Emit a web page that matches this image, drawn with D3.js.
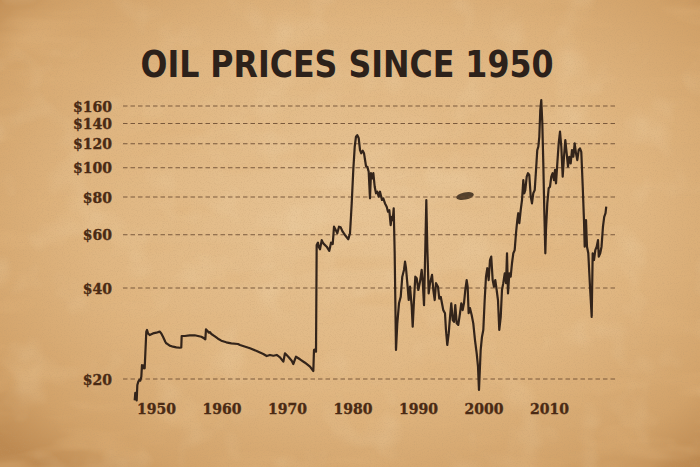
<!DOCTYPE html>
<html><head><meta charset="utf-8">
<script src="https://cdn.jsdelivr.net/npm/d3@7"></script>
<style>html,body{margin:0;padding:0;background:#d9b080;}svg{display:block}</style>
</head><body>
<script>
const title = "OIL PRICES SINCE 1950";
const yTicks = [20, 40, 60, 80, 100, 120, 140, 160];
const xTicks = [1950, 1960, 1970, 1980, 1990, 2000, 2010];
const years = [
1946.75,1946.84,1947.05,1947.15,1947.30,1947.45,1947.60,1947.76,1947.86,1948.02,1948.17,1948.27,1948.52,1948.63,1948.78,1949.04,1949.54,
1950.05,1950.56,1950.81,1951.07,1951.42,1951.57,1951.83,1952.09,1952.60,1953.10,1953.62,1953.86,1953.92,1954.38,1955.15,1955.91,1956.41,
1956.92,1957.33,1957.53,1957.63,1957.83,1958.05,1958.24,1958.44,1958.70,1959.05,1959.47,1959.97,1960.73,1961.50,1962.52,1962.82,1964.35,
1965.37,1966.38,1966.90,1967.40,1967.91,1968.43,1968.93,1969.44,1969.69,1970.20,1970.72,1970.96,1971.37,1971.98,1972.75,1973.51,1974.02,
1974.12,1974.27,1974.43,1974.53,1974.73,1974.84,1975.04,1975.30,1975.54,1976.06,1976.46,1976.72,1976.98,1977.18,1977.44,1977.68,1977.94,
1978.20,1978.50,1978.85,1979.36,1979.62,1979.88,1980.12,1980.34,1980.53,1980.73,1980.95,1981.15,1981.34,1981.56,1981.76,1982.06,1982.26,
1982.47,1982.67,1982.82,1983.02,1983.18,1983.39,1983.59,1983.79,1984.00,1984.20,1984.50,1984.70,1984.96,1985.22,1985.42,1985.62,1985.73,
1985.83,1985.98,1986.14,1986.29,1986.44,1986.64,1986.84,1987.10,1987.36,1987.60,1987.86,1988.02,1988.17,1988.37,1988.58,1988.78,1989.04,
1989.19,1989.39,1989.59,1989.80,1990.05,1990.31,1990.56,1990.72,1990.92,1991.11,1991.27,1991.42,1991.63,1991.83,1992.14,1992.34,1992.55,
1992.75,1993.05,1993.25,1993.47,1993.66,1993.86,1994.12,1994.27,1994.47,1994.69,1994.89,1995.08,1995.30,1995.50,1995.69,1995.91,1996.15,
1996.41,1996.61,1996.82,1997.02,1997.22,1997.43,1997.58,1997.73,1997.94,1998.20,1998.44,1998.70,1998.96,1999.16,1999.31,1999.57,1999.77,
1999.97,2000.18,2000.38,2000.58,2000.79,2000.99,2001.18,2001.40,2001.60,2001.80,2002.01,2002.21,2002.41,2002.63,2002.82,2003.02,2003.24,
2003.44,2003.59,2003.74,2003.94,2004.15,2004.35,2004.55,2004.76,2004.96,2005.16,2005.31,2005.47,2005.68,2005.88,2006.08,2006.23,2006.38,
2006.60,2006.79,2006.99,2007.21,2007.40,2007.60,2007.82,2008.02,2008.21,2008.37,2008.52,2008.67,2008.82,2008.98,2009.13,2009.28,2009.44,
2009.54,2009.74,2009.95,2010.15,2010.35,2010.56,2010.76,2010.92,2011.07,2011.27,2011.48,2011.68,2011.88,2012.09,2012.29,2012.49,2012.70,
2012.90,2013.10,2013.31,2013.51,2013.71,2013.92,2014.12,2014.32,2014.53,2014.73,2014.93,2015.15,2015.34,2015.45,2015.65,2015.80,2016.00,
2016.26,2016.52,2016.67,2016.87,2017.07,2017.28,2017.48,2017.60,2017.82,2018.02,2018.24,2018.43,2018.63,2018.74];
const prices = [
17.0,18.0,17.0,19.1,19.6,19.85,19.75,20.35,22.25,21.7,22.25,21.7,28.7,29.05,28.3,27.96,28.3,
28.46,28.7,28.3,27.6,26.57,26.25,26.04,25.78,25.58,25.45,25.38,25.45,27.75,27.75,27.9,27.9,27.75,
27.6,27.27,27.05,29.2,28.9,28.46,28.6,28.18,27.96,27.6,27.18,26.78,26.45,26.25,26.11,25.91,25.27,
24.75,24.19,23.82,24.02,23.88,24.02,23.59,22.82,24.33,23.7,22.98,22.42,23.7,23.24,22.64,21.97,21.26,
24.95,25.07,24.62,55.5,56.5,54.8,53.7,57.6,56.2,54.8,53.1,56.5,55.9,63.8,62.2,60.7,63.8,
63.5,61.4,59.9,58.0,60.7,76.2,98.3,117.3,126.6,128.2,125.1,114.4,111.6,113.8,111.6,101.3,100.8,
97.0,79.2,95.9,92.2,95.9,86.5,82.3,83.3,80.2,83.3,78.2,79.2,76.2,74.3,71.5,72.4,68.0,
64.6,68.8,67.1,73.4,52.1,24.95,30.56,35.6,37.4,43.6,45.9,48.9,46.5,41.5,36.5,40.4,34.7,
29.8,36.5,43.6,43.1,39.4,42.0,45.9,42.0,35.1,53.4,78.2,54.8,38.4,41.5,44.2,39.4,36.5,
41.5,40.4,36.9,37.4,35.6,33.8,33.0,29.05,25.91,28.3,32.1,35.6,31.3,30.9,35.1,30.56,30.2,
33.0,35.6,33.8,35.6,39.4,42.5,40.4,33.0,34.3,32.5,30.56,26.9,24.33,21.97,18.4,24.95,27.6,
29.05,36.5,43.6,46.5,42.5,49.5,50.8,42.5,40.4,42.5,39.4,36.5,29.05,32.1,39.4,41.5,44.7,
41.5,52.1,38.4,44.7,43.6,48.3,52.1,53.4,60.7,67.1,70.7,65.5,72.4,78.2,91.0,82.3,84.3,
93.4,95.9,94.6,80.2,76.2,82.3,84.3,98.3,114.4,117.3,126.6,155.2,167.5,140.2,103.4,72.4,52.1,
62.2,76.2,85.5,86.5,93.4,95.9,91.0,98.3,88.8,103.4,120.4,131.6,117.3,93.4,108.7,123.4,111.6,
100.8,108.7,103.4,114.4,108.7,120.4,111.6,106.0,114.4,115.9,112.9,86.5,67.1,54.8,67.1,54.8,52.1,
40.4,32.1,52.1,49.5,53.4,54.8,57.6,50.8,52.1,54.8,63.8,68.8,70.7,74.3];

const W = 700, H = 467;
const svg = d3.select("body").append("svg").attr("width", W).attr("height", H);
const defs = svg.append("defs");

// paper background
const rg = defs.append("radialGradient").attr("id","paper").attr("cx","52%").attr("cy","45%").attr("r","72%");
rg.append("stop").attr("offset","0%").attr("stop-color","#e8c596");
rg.append("stop").attr("offset","55%").attr("stop-color","#e0b681");
rg.append("stop").attr("offset","85%").attr("stop-color","#d2a269");
rg.append("stop").attr("offset","100%").attr("stop-color","#bd8950");
const f1 = defs.append("filter").attr("id","grain").attr("x",0).attr("y",0).attr("width","100%").attr("height","100%");
f1.append("feTurbulence").attr("type","fractalNoise").attr("baseFrequency","0.85").attr("numOctaves",2).attr("seed",3).attr("result","n");
f1.append("feColorMatrix").attr("in","n").attr("type","matrix")
  .attr("values","0 0 0 0 0.5  0 0 0 0 0.32  0 0 0 0 0.16  0 0 0 -1.6 0.85");
const f2 = defs.append("filter").attr("id","mottle").attr("x",0).attr("y",0).attr("width","100%").attr("height","100%");
f2.append("feTurbulence").attr("type","fractalNoise").attr("baseFrequency","0.01 0.035").attr("numOctaves",3).attr("seed",11).attr("result","n");
f2.append("feColorMatrix").attr("in","n").attr("type","matrix")
  .attr("values","0 0 0 0 0.74  0 0 0 0 0.45  0 0 0 0 0.2  0 0 0 -2.6 1.35");
const f3 = defs.append("filter").attr("id","light").attr("x",0).attr("y",0).attr("width","100%").attr("height","100%");
f3.append("feTurbulence").attr("type","fractalNoise").attr("baseFrequency","0.02").attr("numOctaves",3).attr("seed",23).attr("result","n");
f3.append("feColorMatrix").attr("in","n").attr("type","matrix")
  .attr("values","0 0 0 0 0.95  0 0 0 0 0.82  0 0 0 0 0.58  0 0 0 2.6 -1.35");

svg.append("rect").attr("width",W).attr("height",H).attr("fill","url(#paper)");
svg.append("rect").attr("width",W).attr("height",H).attr("filter","url(#mottle)").attr("opacity",0.5);
svg.append("rect").attr("width",W).attr("height",H).attr("filter","url(#light)").attr("opacity",0.18);
svg.append("rect").attr("width",W).attr("height",H).attr("filter","url(#grain)").attr("opacity",0.4);
// small ink blot
svg.append("ellipse").attr("cx",465).attr("cy",196).attr("rx",9).attr("ry",3.6).attr("fill","#2e2014").attr("opacity",0.8).attr("transform","rotate(-12,465,196)");

const x = d3.scaleLinear().domain([1950, 2010]).range([156, 549]);
const y = d3.scaleLog().domain([20, 160]).range([379, 106]);

// title
svg.append("text").attr("x",347).attr("y",77).attr("text-anchor","middle")
  .attr("font-family","'DejaVu Sans Condensed','DejaVu Sans',sans-serif").attr("font-weight","bold")
  .attr("font-stretch","condensed")
  .attr("font-size",38).attr("fill","#2c211a")
  .attr("textLength",413).attr("lengthAdjust","spacingAndGlyphs")
  .text(title);

// gridlines
svg.append("g").selectAll("line").data(yTicks).join("line")
  .attr("x1",123).attr("x2",615).attr("y1",d=>y(d)).attr("y2",d=>y(d))
  .attr("stroke","#6a4a30").attr("stroke-width",1.1).attr("stroke-dasharray","4.5,3").attr("opacity",0.85);

const labelStyle = sel => sel.attr("font-family","'DejaVu Serif',serif").attr("font-weight","bold")
  .attr("font-size",14).attr("fill","#4a2a14").attr("stroke","#4a2a14").attr("stroke-width",0.35);

// y labels via axis
const yAxis = d3.axisLeft(y).tickValues(yTicks).tickFormat(d=>"$"+d).tickSize(0).tickPadding(0);
const gy = svg.append("g").attr("transform","translate(112,0)").call(yAxis);
gy.select(".domain").remove();
gy.selectAll("text").call(labelStyle).attr("dy","0.36em");

// x labels via axis
const xAxis = d3.axisBottom(x).tickValues(xTicks).tickFormat(d3.format("d")).tickSize(0).tickPadding(0);
const gx = svg.append("g").attr("transform","translate(0,404)").call(xAxis);
gx.select(".domain").remove();
gx.selectAll("text").call(labelStyle).attr("dy","0.71em");

// line
const data = years.map((yr,i)=>({yr, p: prices[i]}));
svg.append("path").datum(data)
  .attr("fill","none").attr("stroke","#33241a").attr("stroke-width",2.2).attr("stroke-linejoin","round")
  .attr("d", d3.line().x(d=>x(d.yr)).y(d=>y(d.p)));
</script>
</body></html>
